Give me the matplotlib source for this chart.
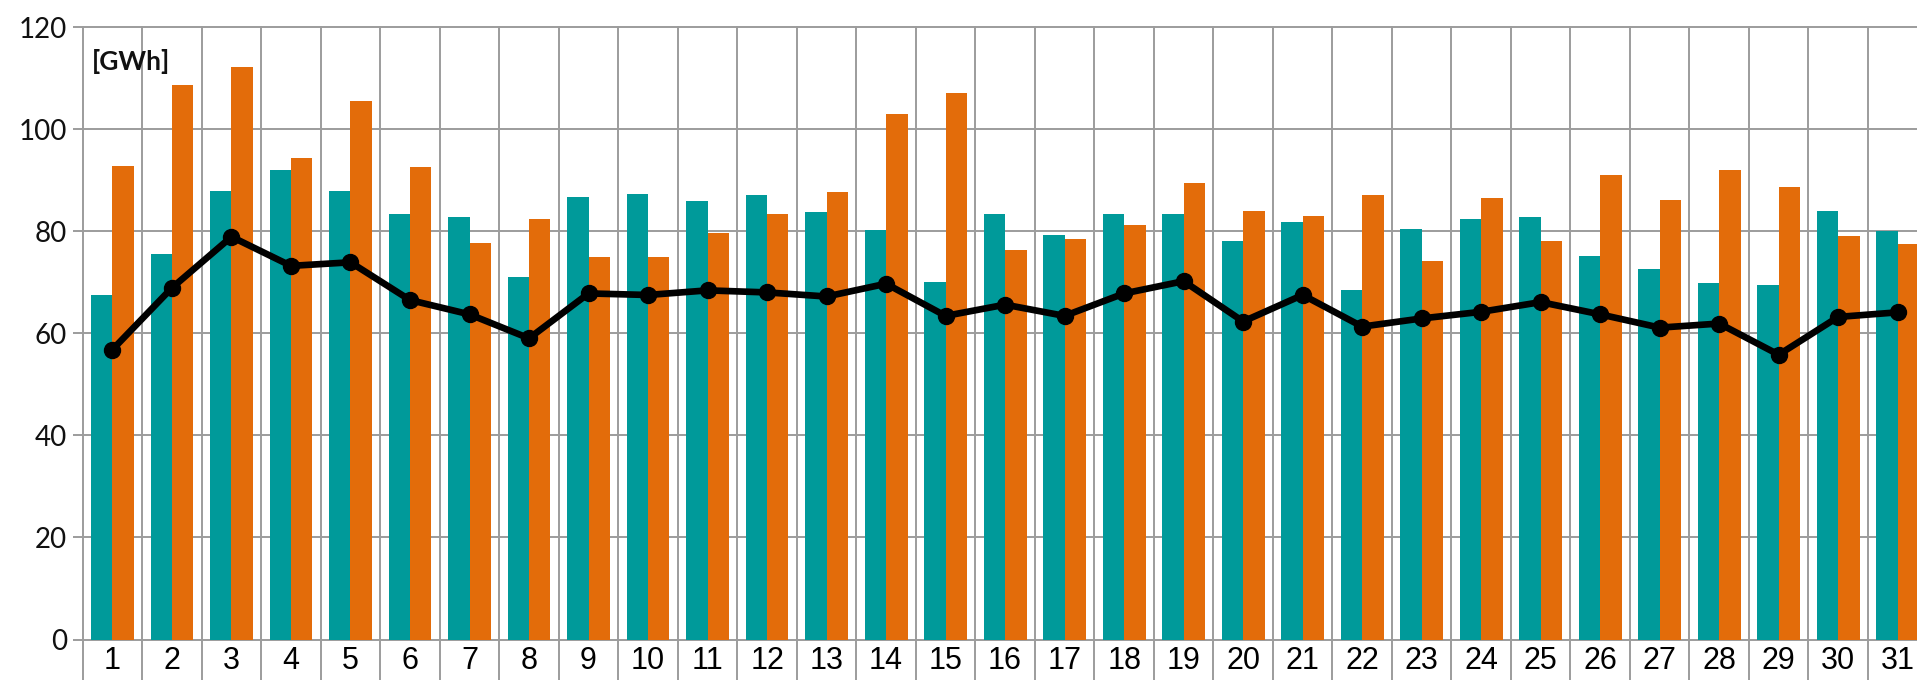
import matplotlib
matplotlib.use("Agg")
import matplotlib.pyplot as plt
from matplotlib import font_manager as fm

days = list(range(1, 32))
teal_vals = [67.4, 75.5, 87.8, 92.0, 87.8, 83.3, 82.7, 71.1, 86.6, 87.3,
             86.0, 87.0, 83.7, 80.3, 70.0, 83.3, 79.2, 83.3, 83.3, 78.1,
             81.7, 68.4, 80.4, 82.3, 82.8, 75.1, 72.5, 69.8, 69.5, 84.0, 80.0]
orange_vals = [92.7, 108.6, 112.2, 94.3, 105.6, 92.6, 77.6, 82.3, 75.0, 75.0,
               79.7, 83.3, 87.6, 102.9, 107.0, 76.3, 78.4, 81.3, 89.4, 83.9,
               83.0, 87.0, 74.1, 86.4, 78.1, 91.0, 86.1, 92.0, 88.7, 79.1, 77.4]
line_vals = [56.8, 68.9, 78.9, 73.2, 73.9, 66.5, 63.7, 59.0, 67.8, 67.5,
             68.4, 68.0, 67.2, 69.7, 63.4, 65.6, 63.4, 67.8, 70.2, 62.3,
             67.5, 61.3, 62.9, 64.2, 66.1, 63.7, 61.1, 61.9, 55.8, 63.2, 64.1]
y_ticks = [0, 20, 40, 60, 80, 100, 120]
unit_label = "[GWh]"

TEAL = "#009A9A"
ORANGE = "#E36C0A"
GRID = "#9C9C9C"

names = {f.name for f in fm.fontManager.ttflist}
xfont = "Liberation Sans Narrow" if "Liberation Sans Narrow" in names else "Liberation Sans"
yfont = "Lato" if "Lato" in names else "DejaVu Sans"

W, H = 1917, 680
fig = plt.figure(figsize=(W / 100, H / 100), dpi=100)
left_px, cat_w, top_px, zero_px = 82.7, 59.51, 27.0, 639.5
ax = fig.add_axes([left_px / W, (H - zero_px) / H, 31 * cat_w / W, (zero_px - top_px) / H])
ax.set_xlim(0.5, 31.5)
ax.set_ylim(0, 120)

for s in ax.spines.values():
    s.set_visible(False)

# horizontal grid lines
for yv in y_ticks:
    ax.axhline(yv, color=GRID, lw=1.4, zorder=0.5, clip_on=False)
# vertical category separators extending down to the figure bottom
ext = -(H - zero_px) / (zero_px - top_px)
for k in range(0, 32):
    ax.axvline(k + 0.5, ymin=ext, ymax=1, color=GRID, lw=1.4, zorder=0.5, clip_on=False)

bw = 0.36
xs = list(days)
ax.bar([x - bw / 2 for x in xs], teal_vals, width=bw, color=TEAL, zorder=2, linewidth=0)
ax.bar([x + bw / 2 for x in xs], orange_vals, width=bw, color=ORANGE, zorder=2, linewidth=0)
ax.plot(xs, line_vals, color="black", lw=4.8, marker="o", markersize=11.5, zorder=3,
        solid_joinstyle="round", clip_on=False)

ax.set_yticks(y_ticks)
ax.set_yticklabels([str(v) for v in y_ticks], fontfamily=yfont, fontsize=20, color="#111111")
ax.tick_params(axis="y", length=7.2, width=1.4, color=GRID, pad=4)
ax.set_xticks(xs)
ax.set_xticklabels([str(d) for d in days], fontfamily=xfont, fontsize=22, color="black")
ax.tick_params(axis="x", length=0, pad=5)

ax.text(92 / W, 1 - 62 / H, unit_label, transform=fig.transFigure, fontfamily=yfont,
        fontweight="bold", fontsize=19, color="#111111", va="center", ha="left")

fig.savefig("out.png", dpi=100)
